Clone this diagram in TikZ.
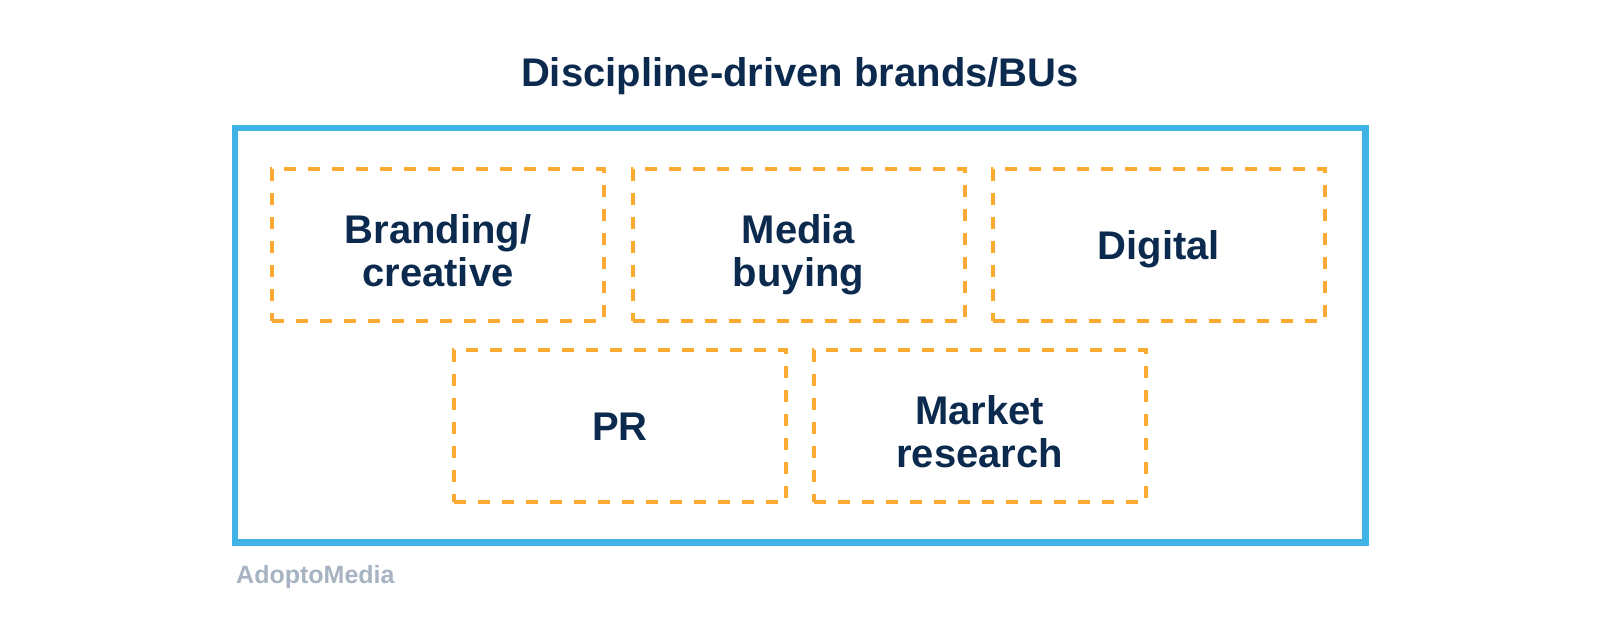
\documentclass[tikz,border=0pt]{standalone}
\usepackage{fontspec}
\setmainfont{Liberation Sans}
\definecolor{frameblue}{HTML}{3FB3E5}
\definecolor{dashorange}{HTML}{FBAA33}
\definecolor{textnavy}{HTML}{0B2A4E}
\definecolor{logogrey}{HTML}{A7B3C2}

\begin{document}
\begin{tikzpicture}[x=1pt,y=-1pt,
  unit/.style={draw=dashorange, line width=4pt, dash pattern=on 12pt off 12pt,
    minimum width=332pt, minimum height=152pt, inner sep=0pt, align=center,
    text=textnavy, font=\fontsize{40}{43}\selectfont\bfseries},
  oneline/.style={text height=29pt, text depth=0pt},
  twoline/.style={text height=84pt, text depth=0pt}]

\useasboundingbox (0,0) rectangle (1600,636);

% --- Title ---
\node[anchor=base, text=textnavy, font=\fontsize{40}{43}\selectfont\bfseries]
  (title) at (800,86.7) {Discipline-driven brands/BUs};

% --- Outer frame ---
\draw[frameblue, line width=6.5pt] (235,128) rectangle (1365.5,542.3);

% --- Top row ---
\node[unit, twoline] (branding) at (438,244.7) {Branding/\\creative};
\node[unit, twoline] (media) at (798.5,244.7) {Media\\buying};
\node[unit, oneline] (digital) at (1158.7,244.7) {Digital};

% --- Bottom row ---
\node[unit, oneline] (pr) at (619.9,425.8) {PR};
\node[unit, twoline] (research) at (979.8,425.8) {Market\\research};

% --- Credit ---
\node[anchor=base west, inner sep=0pt, text=logogrey,
  font=\fontsize{25}{28}\selectfont\bfseries] (credit) at (236,583.3) {AdoptoMedia};

\end{tikzpicture}
\end{document}
